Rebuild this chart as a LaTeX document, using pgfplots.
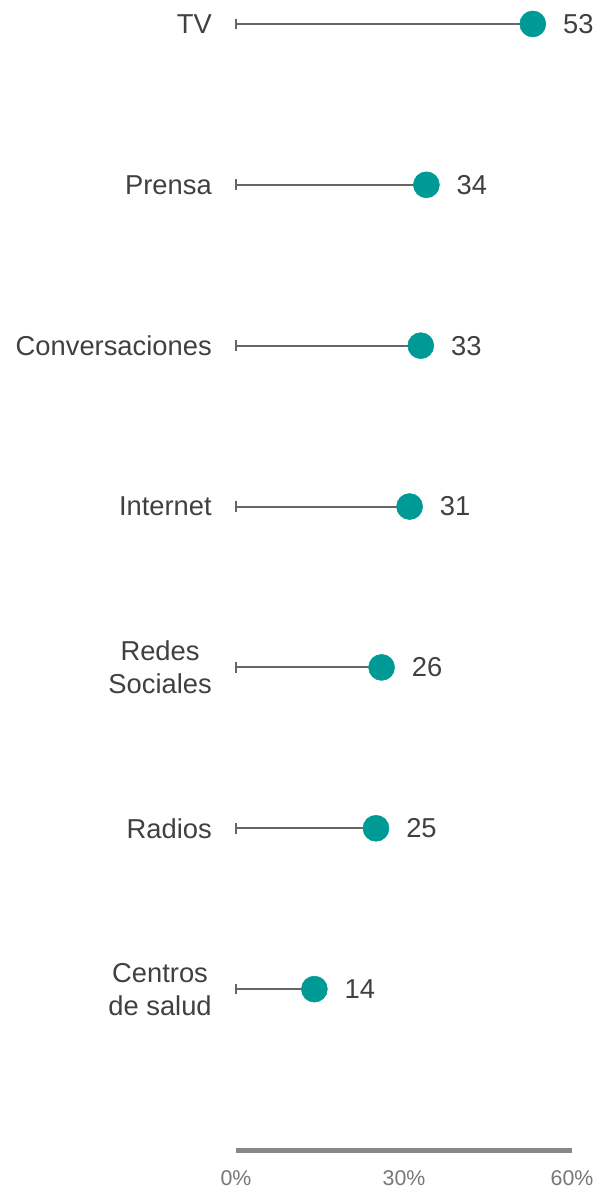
\documentclass[border=0pt]{standalone}
\usepackage{fontspec}
\setmainfont{Liberation Sans}
\usepackage{pgfplots}
\pgfplotsset{compat=1.18}
\usepackage{pgfplotstable}
\definecolor{dotteal}{HTML}{009A96}
\definecolor{stemgray}{HTML}{666666}
\definecolor{axisgray}{HTML}{888888}
\definecolor{textgray}{HTML}{404040}
\definecolor{ticktxt}{HTML}{777777}

\pgfplotstableread{
pos val
7 53
6 34
5 33
4 31
3 26
2 25
1 14
}\datatable

\begin{document}
\begin{tikzpicture}[x=1pt,y=1pt]
\begin{axis}[
    scale only axis,
    width=252pt, height=862.5pt,
    xmin=0, xmax=60, ymin=0, ymax=7.149,
    axis x line=bottom, axis y line=left,
    x axis line style={-, line width=3.75pt, draw=axisgray},
    y axis line style={draw=none},
    major tick length=0pt,
    xtick={0,30,60}, xticklabels={0\%,30\%,60\%},
    xticklabel style={font=\fontsize{16}{19}\selectfont, text=ticktxt, inner sep=0pt, yshift=-15.5pt},
    ytick={1,...,7},
    yticklabels={Centros\\de salud, Radios, Redes\\Sociales, Internet, Conversaciones, Prensa, TV},
    yticklabel style={font=\fontsize{20.5}{24.75}\selectfont, text=textgray, align=center, inner sep=0pt, xshift=-18pt},
    clip=false,
    /pgf/number format/assume math mode=true,
]
% stems from zero
\addplot[xcomb, draw=stemgray, line width=1.5pt, mark=none] table[x=val, y=pos]{\datatable};
% start ticks at zero
\addplot[only marks, mark=|, mark size=4pt, mark options={line width=1.2pt, draw=stemgray}] table[x expr=0, y=pos]{\datatable};
% dots with values
\addplot[only marks, mark=*, mark size=9.75pt, color=dotteal,
    point meta=x, nodes near coords,
    nodes near coords style={anchor=west, inner sep=0pt, xshift=22.5pt,
        font=\fontsize{20.5}{24.75}\selectfont, text=textgray}]
    table[x=val, y=pos]{\datatable};
\end{axis}
\pgfresetboundingbox
\path[use as bounding box] (-177pt,-31.5pt) rectangle (271.5pt,862.5pt);
\end{tikzpicture}
\end{document}
